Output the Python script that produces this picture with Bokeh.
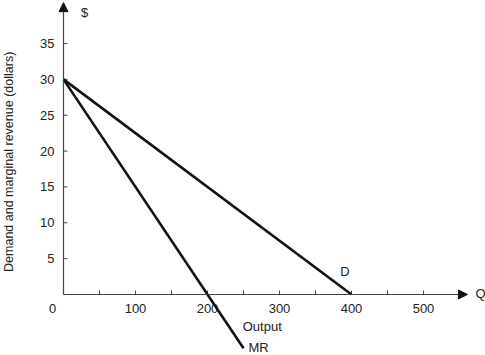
from bokeh.plotting import figure
from bokeh.models import Range1d, Arrow, NormalHead
from bokeh.core.properties import value
from bokeh.embed import file_html
from bokeh.resources import INLINE
import math

# Data
demand_q = [0, 400]
demand_p = [30, 0]
mr_q = [0, 250]
mr_p = [30, -7.5]
x_ticks = [50, 100, 150, 200, 250, 300, 350, 400, 450, 500]
x_tick_labels = [100, 200, 300, 400, 500]
y_ticks = [5, 10, 15, 20, 25, 30, 35]
y_tick_labels = [5, 10, 15, 20, 25, 30, 35]
x_axis_end = 561
y_axis_end = 40.7

FONT = value("Liberation Sans")
AX = "#444444"
TXT = "#222222"

p = figure(width=485, height=355, output_backend="svg", toolbar_location=None,
           x_range=Range1d(-87.5, 586.1), y_range=Range1d(-8.51, 41.0),
           min_border=0)
p.xaxis.visible = False
p.yaxis.visible = False
p.grid.visible = False
p.outline_line_color = None
p.background_fill_color = "white"
p.border_fill_color = "white"

# axes lines with arrows
p.add_layout(Arrow(x_start=0, y_start=0, x_end=x_axis_end, y_end=0,
                   line_color=AX, line_width=1.2,
                   end=NormalHead(size=9, fill_color="#111111", line_color="#111111")))
p.add_layout(Arrow(x_start=0, y_start=0, x_end=0, y_end=y_axis_end,
                   line_color=AX, line_width=1.2,
                   end=NormalHead(size=9, fill_color="#111111", line_color="#111111")))

# ticks
p.segment(x0=x_ticks, y0=[0]*len(x_ticks), x1=x_ticks, y1=[0.55]*len(x_ticks),
          line_color=AX, line_width=1)
p.segment(x0=[0]*len(y_ticks), y0=y_ticks, x1=[5.5]*len(y_ticks), y1=y_ticks,
          line_color=AX, line_width=1)

# tick labels
p.text(x=x_tick_labels, y=[0]*len(x_tick_labels), text=[str(v) for v in x_tick_labels],
       text_font=FONT, text_font_size="13px", text_align="center",
       text_baseline="top", y_offset=10, text_color=TXT)
p.text(x=[0]*len(y_tick_labels), y=y_tick_labels, text=[str(v) for v in y_tick_labels],
       text_font=FONT, text_font_size="13px", text_align="right",
       text_baseline="middle", x_offset=-9, text_color=TXT)
p.text(x=[0], y=[0], text=["0"], text_font=FONT, text_font_size="13px",
       text_align="center", text_baseline="top", x_offset=-11, y_offset=10,
       text_color=TXT)

# data lines
p.line(demand_q, demand_p, line_color="#111111", line_width=2.6)
p.line(mr_q, mr_p, line_color="#111111", line_width=2.6)

# annotations
p.text(x=[391], y=[3.2], text=["D"], text_font=FONT, text_font_size="13px",
       text_align="center", text_baseline="middle", text_color=TXT)
p.text(x=[257], y=[-7.45], text=["MR"], text_font=FONT, text_font_size="13px",
       text_align="left", text_baseline="middle", text_color=TXT)
p.text(x=[276], y=[-4.4], text=["Output"], text_font=FONT, text_font_size="13px",
       text_align="center", text_baseline="middle", text_color=TXT)
p.text(x=[x_axis_end], y=[0], text=["Q"], text_font=FONT, text_font_size="13px",
       text_align="left", text_baseline="middle", x_offset=8, y_offset=-1,
       text_color=TXT)
p.text(x=[0], y=[y_axis_end], text=["$"], text_font=FONT, text_font_size="13px",
       text_align="center", text_baseline="middle", x_offset=21, y_offset=10,
       text_color=TXT)
p.text(x=[-76], y=[18.5], text=["Demand and marginal revenue (dollars)"],
       text_font=FONT, text_font_size="12.5px", text_align="center",
       text_baseline="middle", angle=math.pi/2, text_color=TXT)

open("out.html", "w").write(file_html(p, INLINE))
